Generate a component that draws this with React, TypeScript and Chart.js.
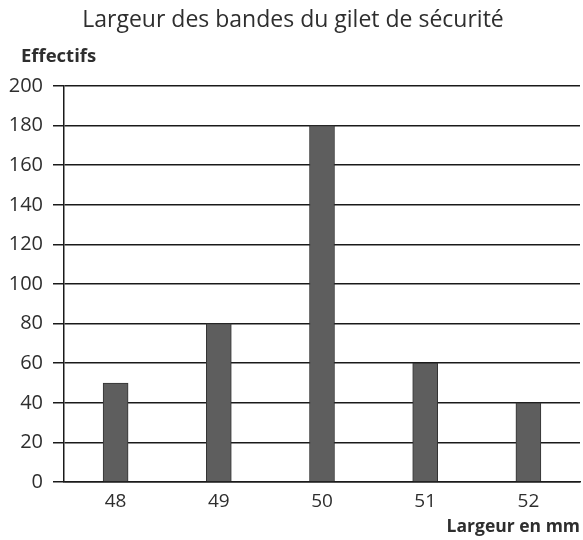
import React, { useEffect, useRef } from "react";
import { Chart, registerables } from "chart.js";

Chart.register(...registerables);

const categories = ["48", "49", "50", "51", "52"];
const effectifs = [50, 80, 180, 60, 40];
const yTicks = [0, 20, 40, 60, 80, 100, 120, 140, 160, 180, 200];
const chartTitle = "Largeur des bandes du gilet de sécurité";
const yTitle = "Effectifs";
const xTitle = "Largeur en mm";

const FONT = "'Open Sans', sans-serif";

const textPlugin = {
  id: "textPlugin",
  afterDraw(chart: any) {
    const ctx = chart.ctx;
    ctx.save();
    ctx.fillStyle = "#2e2e2e";
    ctx.textBaseline = "alphabetic";
    ctx.font = `400 23px ${FONT}`;
    ctx.textAlign = "center";
    ctx.fillText(chartTitle, 293, 27);
    ctx.font = `700 18.5px ${FONT}`;
    ctx.textAlign = "left";
    ctx.fillText(yTitle, 21, 62);
    ctx.font = `700 17.5px ${FONT}`;
    ctx.textAlign = "right";
    ctx.fillText(xTitle, 580, 532);
    ctx.restore();
  },
};

export default function App() {
  const ref = useRef<HTMLCanvasElement | null>(null);
  useEffect(() => {
    document.body.style.margin = "0";
    const canvas = ref.current!;
    const chart = new Chart(canvas, {
      type: "bar",
      data: {
        labels: categories,
        datasets: [
          {
            data: effectifs,
            backgroundColor: "#5e5e5e",
            borderColor: "#333",
            borderWidth: 1,
            barThickness: 25,
          },
        ],
      },
      options: {
        responsive: false,
        animation: false,
        layout: { padding: { top: 86, bottom: 28, right: 3, left: 0 } },
        plugins: { legend: { display: false }, tooltip: { enabled: false } },
        scales: {
          x: {
            grid: { display: false, drawTicks: false },
            border: { display: true, color: "#1a1a1a", width: 1.5 },
            ticks: { color: "#2e2e2e", font: { family: FONT, size: 19 }, padding: 8 },
            afterFit(scale: any) {
              scale.height = 30;
            },
          },
          y: {
            min: 0,
            max: 200,
            afterBuildTicks(scale: any) {
              scale.ticks = yTicks.map((v) => ({ value: v }));
            },
            grid: { color: "#1a1a1a", lineWidth: 1.5, tickLength: 11, drawTicks: true },
            border: { display: true, color: "#1a1a1a", width: 1.5 },
            ticks: { color: "#2e2e2e", font: { family: FONT, size: 20 }, padding: 10 },
            afterFit(scale: any) {
              scale.width = 64;
            },
          },
        },
      },
      plugins: [textPlugin],
    });
    return () => chart.destroy();
  }, []);
  return <canvas ref={ref} width={583} height={540} style={{ display: "block" }} />;
}
